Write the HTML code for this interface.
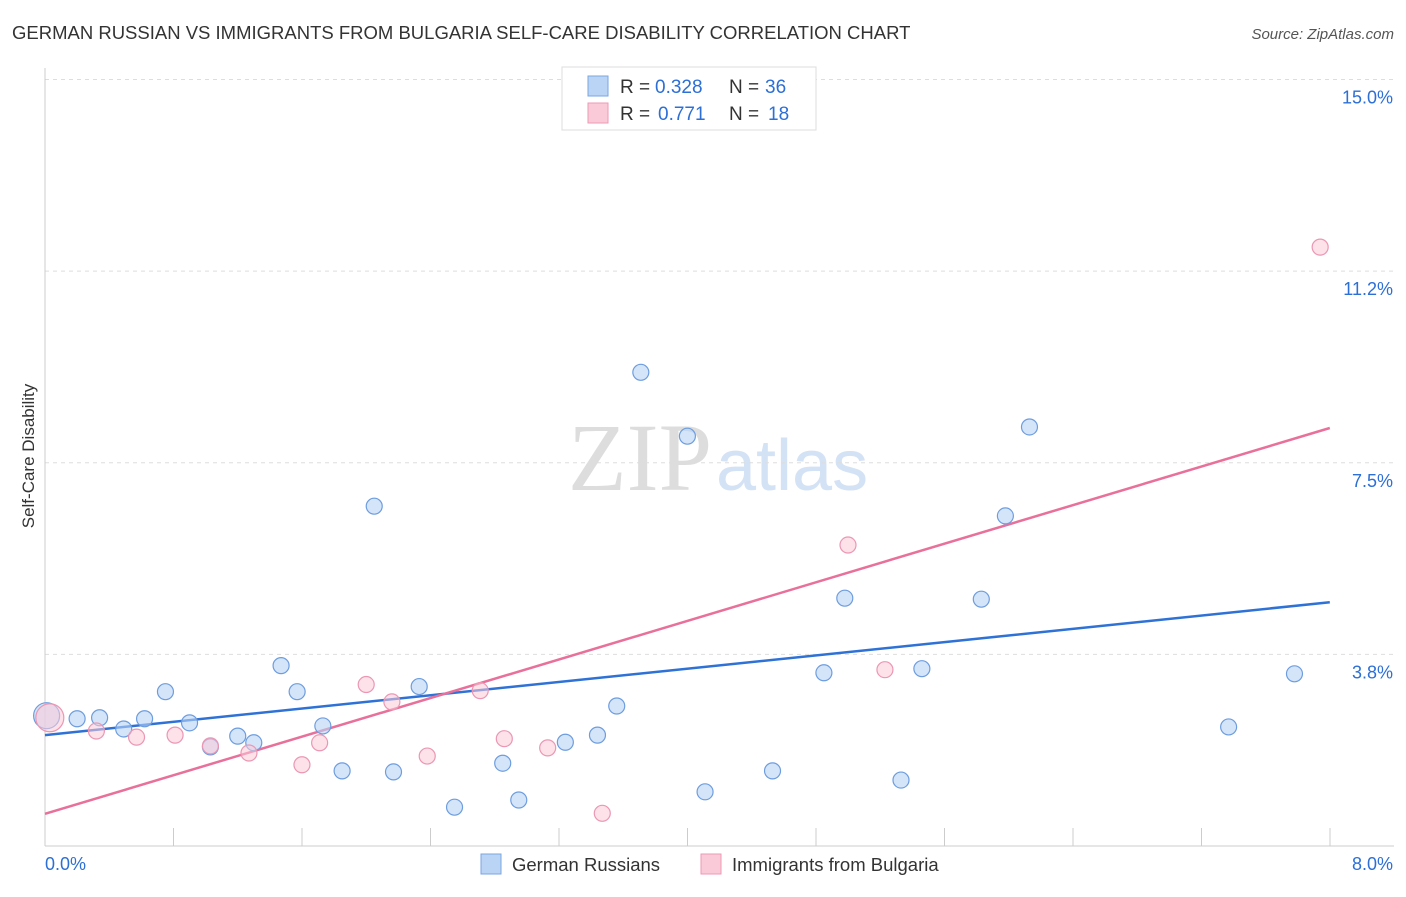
<!DOCTYPE html>
<html><head><meta charset="utf-8"><style>
body{margin:0;background:#fff;font-family:"Liberation Sans",sans-serif}
</style></head><body>
<svg id="c" width="1406" height="892" xmlns="http://www.w3.org/2000/svg">
<text x="12" y="39" font-size="18.5" fill="#333">GERMAN RUSSIAN VS IMMIGRANTS FROM BULGARIA SELF-CARE DISABILITY CORRELATION CHART</text>
<text x="1394" y="39" font-size="15" fill="#555" font-style="italic" text-anchor="end">Source: ZipAtlas.com</text>
<text x="712" y="490" font-size="96" fill="#ddd" text-anchor="end" font-family="Liberation Serif">ZIP</text>
<text x="716" y="490" font-size="72" fill="#d4e2f5">atlas</text>
<text transform="translate(34,456) rotate(-90)" font-size="17" fill="#333" text-anchor="middle">Self-Care Disability</text>
<g id="grid"></g><g id="trend"></g><g id="pts"></g>
<g>
<rect x="562" y="67" width="254" height="63" fill="#fff" stroke="#ddd"/>
<rect x="588" y="76" width="20" height="20" fill="#b9d4f5" stroke="#7aa6e0"/>
<rect x="588" y="103" width="20" height="20" fill="#fbcad9" stroke="#ee9ab5"/>
<text x="620" y="93" font-size="19" fill="#333">R =</text>
<text x="655" y="93" font-size="19" fill="#2c6fd6">0.328</text>
<text x="729" y="93" font-size="19" fill="#333">N =</text>
<text x="765" y="93" font-size="19" fill="#2c6fd6">36</text>
<text x="620" y="120" font-size="19" fill="#333">R =</text>
<text x="658" y="120" font-size="19" fill="#2c6fd6">0.771</text>
<text x="729" y="120" font-size="19" fill="#333">N =</text>
<text x="768" y="120" font-size="19" fill="#2c6fd6">18</text>
</g>
<g>
<rect x="481" y="854" width="20" height="20" fill="#b9d4f5" stroke="#7aa6e0"/>
<text x="512" y="871" font-size="18.5" fill="#333">German Russians</text>
<rect x="701" y="854" width="20" height="20" fill="#fbcad9" stroke="#ee9ab5"/>
<text x="732" y="871" font-size="18.5" fill="#333">Immigrants from Bulgaria</text>
</g>
<text x="45" y="870" font-size="18" fill="#2c6fd6">0.0%</text>
<text x="1393" y="870" font-size="18" fill="#2c6fd6" text-anchor="end">8.0%</text>
</svg>
<script>
const yTicks=[15.0,11.25,7.5,3.75];
const yTickLabels=["15.0%","11.2%","7.5%","3.8%"];
const blueX=[0.01,0.2,0.34,0.49,0.62,0.75,0.9,1.03,1.2,1.3,1.47,1.57,1.73,1.85,2.05,2.17,2.33,2.55,2.85,2.95,3.24,3.44,3.56,3.71,4.0,4.11,4.53,4.85,4.98,5.33,5.46,5.83,5.98,6.13,7.37,7.78];
const blueY=[2.55,2.49,2.51,2.29,2.49,3.02,2.41,1.94,2.15,2.02,3.53,3.02,2.35,1.47,6.65,1.45,3.12,0.76,1.62,0.9,2.03,2.17,2.74,9.27,8.02,1.06,1.47,3.39,4.85,1.29,3.47,4.83,6.46,8.2,2.33,3.37];
const pinkX=[0.03,0.32,0.57,0.81,1.03,1.27,1.6,1.71,2.0,2.16,2.38,2.71,2.86,3.13,3.47,5.0,5.23,7.94];
const pinkY=[2.51,2.25,2.13,2.17,1.96,1.82,1.59,2.02,3.16,2.82,1.76,3.04,2.1,1.92,0.64,5.89,3.45,11.72];
const blueLine=[2.17,4.77];
const pinkLine=[0.63,8.18];
const NS="http://www.w3.org/2000/svg";
const sx=v=>45+v*160.6, sy=v=>846-v*51.1;
function mk(t,a,p){const e=document.createElementNS(NS,t);for(const k in a)e.setAttribute(k,a[k]);document.getElementById(p).appendChild(e);return e;}
yTicks.forEach((t,i)=>{
 const l=mk('line',{x1:45,x2:1394,y1:sy(t),y2:sy(t),stroke:'#ddd','stroke-dasharray':'4,4'},'grid');
 
 
 const tx=mk('text',{x:1393,y:sy(t)+24,'font-size':18,fill:'#2c6fd6','text-anchor':'end'},'grid');
 tx.textContent=yTickLabels[i];
 
 
});
const ax=mk('line',{x1:45,x2:1394,y1:846,y2:846,stroke:'#ccc'},'grid');


const ay=mk('line',{x1:45,x2:45,y1:68,y2:846,stroke:'#ccc'},'grid');


for(let i=1;i<=10;i++){const tk=mk('line',{x1:45+i*128.5,x2:45+i*128.5,y1:828,y2:846,stroke:'#ccc'},'grid');
 
 }
const bl=mk('line',{x1:sx(0),y1:sy(blueLine[0]),x2:sx(8),y2:sy(blueLine[1]),stroke:'#2f72d6','stroke-width':2.5},'trend');


const pl=mk('line',{x1:sx(0),y1:sy(pinkLine[0]),x2:sx(8),y2:sy(pinkLine[1]),stroke:'#e8709a','stroke-width':2.5},'trend');


blueX.forEach((x,i)=>{const c=mk('circle',{cx:sx(x),cy:sy(blueY[i]),r:i==0?13:8,fill:'rgba(185,212,245,0.6)',stroke:'#6d9ddf','stroke-width':1.2},'pts');
 
 });
pinkX.forEach((x,i)=>{const c=mk('circle',{cx:sx(x),cy:sy(pinkY[i]),r:i==0?14:8,fill:'rgba(251,202,217,0.55)',stroke:'#eb97b3','stroke-width':1.2},'pts');
 
 });
</script>
</body></html>
